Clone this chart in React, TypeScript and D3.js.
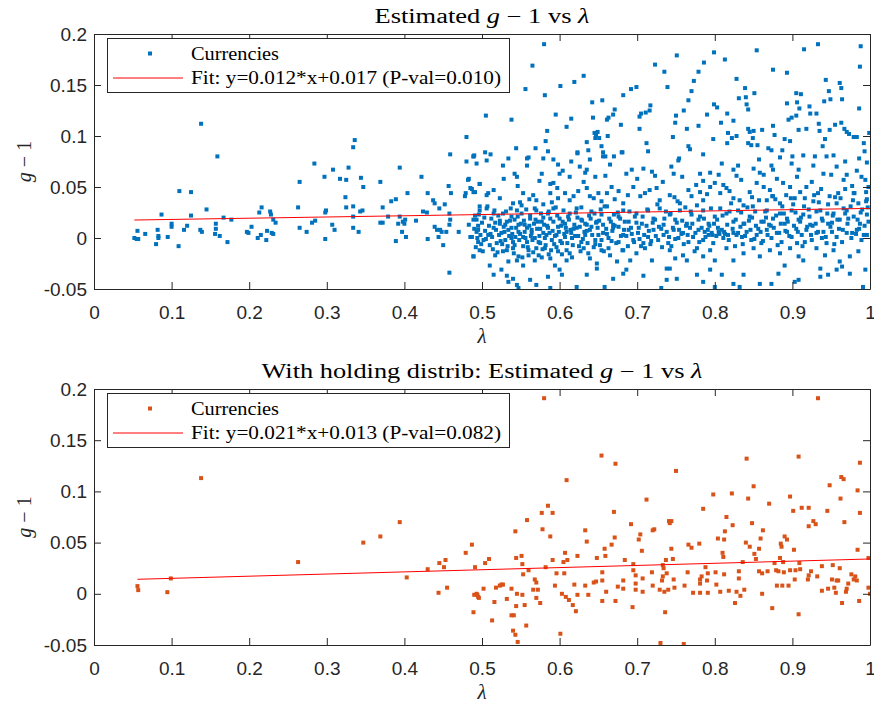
import React, { useEffect, useRef } from 'react';
import * as d3 from 'd3';

// tick values and labels (MATLAB style, hyphen minus)
const xTicks = [0, 0.1, 0.2, 0.3, 0.4, 0.5, 0.6, 0.7, 0.8, 0.9, 1];
const xTickLabels = ['0', '0.1', '0.2', '0.3', '0.4', '0.5', '0.6', '0.7', '0.8', '0.9', '1'];
const yTicks = [-0.05, 0, 0.05, 0.1, 0.15, 0.2];
const yTickLabels = ['-0.05', '0', '0.05', '0.1', '0.15', '0.2'];

// linear fits printed in the legends
const fitAll = [0.012, 0.017];
const fitHolding = [0.021, 0.013];
const fitLabels = ['Fit: y=0.012*x+0.017 (P-val=0.010)', 'Fit: y=0.021*x+0.013 (P-val=0.082)'];

// estimated g-1 vs lambda, all currencies
const currenciesAll: [number, number][] = [
  [0.052,0.000],[0.055,-0.001],[0.056,0.007],[0.057,-0.001],[0.066,0.004],[0.080,-0.006],[0.082,0.008],[0.083,0.002],[0.083,0.000],[0.087,0.023],
  [0.095,0.001],[0.100,0.014],[0.100,0.011],[0.109,-0.008],[0.110,0.046],[0.116,0.008],[0.120,0.012],[0.125,0.045],[0.125,0.022],[0.137,0.008],
  [0.139,0.006],[0.138,0.112],[0.145,0.028],[0.157,0.014],[0.157,0.009],[0.156,0.004],[0.159,0.080],[0.162,0.002],[0.167,0.020],[0.172,-0.004],
  [0.177,0.018],[0.197,0.006],[0.199,0.005],[0.203,0.011],[0.211,0.000],[0.213,0.025],[0.216,0.030],[0.215,0.003],[0.222,-0.002],[0.223,0.007],
  [0.227,0.026],[0.228,0.023],[0.229,0.005],[0.231,0.004],[0.231,0.018],[0.234,0.015],[0.263,0.030],[0.265,0.055],[0.265,0.010],[0.274,0.006],
  [0.281,0.015],[0.284,0.073],[0.285,0.017],[0.297,0.060],[0.298,0.025],[0.299,0.027],[0.298,-0.001],[0.308,0.067],[0.307,0.013],[0.310,0.008],
  [0.317,0.058],[0.325,0.057],[0.324,0.040],[0.325,0.030],[0.328,0.069],[0.334,0.089],[0.336,0.096],[0.334,0.031],[0.334,0.021],[0.334,0.010],
  [0.341,0.006],[0.343,0.026],[0.344,0.059],[0.346,0.027],[0.347,0.050],[0.369,0.055],[0.372,0.030],[0.369,0.015],[0.372,0.015],[0.379,0.021],
  [0.383,0.036],[0.389,0.038],[0.394,0.069],[0.389,-0.003],[0.392,0.014],[0.394,0.021],[0.397,0.006],[0.398,0.016],[0.400,0.014],[0.401,0.018],
  [0.402,0.001],[0.404,0.044],[0.415,0.017],[0.422,0.060],[0.424,0.026],[0.429,0.025],[0.430,0.044],[0.430,-0.001],[0.437,0.037],[0.439,0.034],
  [0.439,0.011],[0.442,0.008],[0.444,0.001],[0.445,0.029],[0.446,0.008],[0.448,0.006],[0.450,-0.007],[0.452,0.033],[0.454,0.006],[0.457,0.051],
  [0.458,0.024],[0.459,0.082],[0.458,-0.034],[0.460,0.044],[0.458,0.013],[0.459,0.018],[0.470,0.006],[0.478,0.041],[0.479,0.044],[0.480,0.099],
  [0.480,0.075],[0.482,0.057],[0.483,0.058],[0.483,0.013],[0.485,0.001],[0.487,0.048],[0.489,0.080],[0.489,-0.018],[0.491,0.022],[0.491,0.045],
  [0.493,0.073],[0.494,0.000],[0.495,-0.004],[0.497,0.053],[0.497,0.031],[0.495,0.008],[0.497,-0.012],[0.493,0.018],
  // upper cloud
  [0.580,0.190],[0.565,0.169],[0.556,0.146],[0.581,0.140],[0.601,0.149],[0.619,0.153],[0.631,0.159],[0.505,0.120],[0.538,0.116],[0.595,0.121],
  [0.615,0.117],[0.609,0.109],[0.584,0.105],[0.582,0.095],[0.544,0.088],[0.569,0.088],[0.579,0.078],[0.585,0.085],[0.534,0.078],[0.560,0.079],
  [0.504,0.084],[0.506,0.076],[0.489,0.080],[0.592,0.077],[0.615,0.075],[0.623,0.084],[0.635,0.094],[0.637,0.086],[0.642,0.133],[0.655,0.135],
  [0.643,0.118],[0.645,0.103],[0.647,0.101],[0.649,0.104],[0.651,0.098],[0.646,0.098],[0.654,0.090],[0.656,0.084],[0.659,0.080],[0.661,0.116],
  [0.662,0.100],[0.663,0.118],[0.670,0.080],[0.671,0.126],[0.669,0.121],[0.679,0.111],[0.681,0.084],[0.682,0.140],[0.692,0.146],[0.699,0.148],
  [0.703,0.119],[0.703,0.107],[0.705,0.122],[0.711,0.123],[0.716,0.125],[0.717,0.130],[0.712,0.093],[0.714,0.085],[0.723,0.170],[0.735,0.163],
  [0.739,0.148],[0.751,0.179],[0.746,0.099],[0.749,0.113],[0.750,0.120],[0.760,0.125],[0.764,0.107],[0.766,0.090],[0.768,0.087],[0.770,0.144],
  [0.773,0.154],[0.779,0.163],[0.786,0.172],[0.799,0.182],[0.813,0.175],[0.766,0.135],[0.779,0.110],[0.790,0.121],[0.799,0.131],[0.803,0.128],
  [0.798,0.097],[0.808,0.113],[0.816,0.122],[0.824,0.115],[0.817,0.103],[0.816,0.093],[0.822,0.098],[0.828,0.100],[0.828,0.156],[0.831,0.137],
  [0.839,0.147],[0.840,0.138],[0.841,0.131],[0.843,0.126],[0.851,0.142],[0.854,0.184],[0.843,0.107],[0.845,0.104],[0.850,0.105],[0.849,0.098],
  [0.843,0.093],[0.847,0.091],[0.855,0.091],[0.861,0.106],[0.875,0.165],[0.875,0.110],[0.877,0.101],[0.869,0.088],[0.873,0.086],[0.887,0.086],
  [0.893,0.162],[0.893,0.132],[0.890,0.097],[0.897,0.095],[0.895,0.116],[0.899,0.118],[0.905,0.120],[0.905,0.142],[0.911,0.141],[0.906,0.133],
  [0.909,0.127],[0.908,0.106],[0.918,0.107],[0.922,0.129],[0.923,0.122],[0.915,0.185],[0.933,0.190],[0.931,0.122],[0.934,0.112],[0.935,0.105],
  [0.943,0.155],[0.941,0.134],[0.947,0.144],[0.949,0.136],[0.948,0.106],[0.942,0.097],[0.939,0.090],[0.955,0.111],[0.961,0.152],[0.963,0.147],
  [0.963,0.113],[0.964,0.136],[0.967,0.107],[0.970,0.104],[0.973,0.102],[0.979,0.099],[0.983,0.099],[0.987,0.168],[0.988,0.188],[0.986,0.127],
  [0.992,0.093],[0.999,0.103],[0.993,0.085],
  [0.490,0.081],[0.511,0.082],[0.558,0.078],[0.623,0.083],[0.639,0.077],[0.656,0.080],[0.680,0.084],[0.754,0.078],[0.785,0.082],[0.857,0.077],
  [0.884,0.079],[0.900,0.080],[0.914,0.081],[0.929,0.080],[0.944,0.080],[0.953,0.081],[0.986,0.078],
  // 0.05 - 0.077 band
  [0.527,0.071],[0.542,0.063],[0.545,0.060],[0.558,0.071],[0.577,0.063],[0.588,0.053],[0.592,0.054],[0.598,0.072],[0.600,0.063],[0.613,0.060],
  [0.626,0.070],[0.633,0.064],[0.635,0.067],[0.646,0.060],[0.665,0.072],[0.686,0.063],[0.693,0.067],[0.708,0.068],[0.719,0.065],[0.723,0.061],
  [0.744,0.070],[0.747,0.063],[0.753,0.076],[0.781,0.063],[0.785,0.056],[0.794,0.064],[0.809,0.073],[0.811,0.052],[0.824,0.067],[0.828,0.061],
  [0.830,0.071],[0.850,0.068],[0.863,0.062],[0.873,0.071],[0.875,0.067],[0.899,0.073],[0.908,0.067],[0.927,0.071],[0.940,0.063],[0.957,0.070],
  [0.968,0.075],[0.970,0.062],[0.983,0.066],[0.996,0.074],[0.994,0.057],[0.497,0.053],[0.508,0.044],[0.485,0.049],[0.489,0.045],
  // 0.03 - 0.05 band
  [0.506,0.042],[0.523,0.039],[0.540,0.034],[0.549,0.035],[0.553,0.044],[0.566,0.042],[0.570,0.037],[0.579,0.033],[0.588,0.044],[0.590,0.035],
  [0.598,0.039],[0.607,0.044],[0.613,0.037],[0.624,0.046],[0.635,0.049],[0.639,0.041],[0.650,0.044],[0.654,0.036],[0.661,0.044],[0.671,0.038],
  [0.676,0.046],[0.682,0.034],[0.695,0.050],[0.704,0.041],[0.710,0.044],[0.725,0.049],[0.729,0.037],[0.742,0.042],[0.755,0.034],[0.766,0.047],
  [0.770,0.041],[0.781,0.045],[0.785,0.037],[0.794,0.050],[0.800,0.054],[0.807,0.044],[0.815,0.049],[0.824,0.039],[0.832,0.037],[0.837,0.032],
  [0.845,0.045],[0.854,0.054],[0.863,0.050],[0.867,0.037],[0.875,0.041],[0.884,0.034],[0.888,0.054],[0.897,0.050],[0.903,0.039],[0.910,0.045],
  [0.918,0.050],[0.927,0.036],[0.933,0.044],[0.948,0.041],[0.957,0.034],[0.968,0.048],[0.979,0.044],[0.985,0.034],[0.996,0.038],[0.998,0.050],
  [0.515,0.047],[0.528,0.058],[0.546,0.051],[0.561,0.038],[0.574,0.056],[0.597,0.049],[0.604,0.066],[0.618,0.041],[0.631,0.055],[0.644,0.039],
  [0.659,0.061],[0.667,0.050],[0.688,0.042],[0.700,0.058],[0.716,0.047],[0.733,0.055],[0.748,0.040],[0.758,0.060],[0.776,0.052],[0.790,0.043],
  [0.805,0.062],[0.819,0.046],[0.834,0.057],[0.848,0.040],[0.858,0.064],[0.871,0.047],[0.880,0.058],[0.892,0.042],[0.906,0.060],[0.916,0.039],
  [0.925,0.055],[0.937,0.048],[0.950,0.062],[0.959,0.044],[0.966,0.057],[0.977,0.051],[0.989,0.060],[0.995,0.045],
  // 0.01 - 0.03 band
  [0.489,0.018],[0.497,0.027],[0.506,0.029],[0.515,0.024],[0.523,0.014],[0.532,0.016],[0.538,0.021],[0.545,0.027],[0.551,0.024],[0.555,0.013],
  [0.562,0.019],[0.570,0.027],[0.577,0.016],[0.585,0.024],[0.592,0.029],[0.600,0.019],[0.607,0.014],[0.613,0.024],[0.622,0.029],[0.628,0.018],
  [0.635,0.013],[0.641,0.026],[0.648,0.016],[0.654,0.023],[0.661,0.031],[0.669,0.013],[0.676,0.021],[0.682,0.027],[0.689,0.016],[0.699,0.024],
  [0.706,0.014],[0.714,0.027],[0.721,0.019],[0.729,0.029],[0.734,0.013],[0.742,0.023],[0.749,0.018],[0.755,0.027],[0.764,0.014],[0.770,0.023],
  [0.779,0.018],[0.785,0.027],[0.792,0.014],[0.800,0.021],[0.807,0.029],[0.815,0.024],[0.824,0.016],[0.830,0.027],[0.837,0.014],[0.845,0.021],
  [0.852,0.026],[0.860,0.016],[0.867,0.027],[0.875,0.019],[0.884,0.024],[0.890,0.014],[0.899,0.027],[0.908,0.018],[0.914,0.023],[0.923,0.013],
  [0.931,0.026],[0.938,0.019],[0.946,0.014],[0.953,0.024],[0.961,0.018],[0.970,0.027],[0.979,0.021],[0.987,0.014],[0.996,0.023],
  // around zero
  [0.487,0.001],[0.493,0.006],[0.502,-0.002],[0.508,0.003],[0.515,0.010],[0.519,-0.005],[0.525,0.005],[0.530,-0.002],[0.534,0.008],[0.538,0.000],
  [0.542,-0.007],[0.547,0.006],[0.553,0.001],[0.558,-0.004],[0.564,0.008],[0.568,0.000],[0.575,-0.005],[0.579,0.005],[0.585,0.010],[0.590,-0.002],
  [0.596,0.003],[0.603,-0.005],[0.609,0.006],[0.616,0.000],[0.622,0.010],[0.628,-0.004],[0.633,0.003],[0.639,0.008],[0.646,-0.002],[0.652,-0.007],
  [0.656,0.005],[0.663,0.000],[0.669,0.010],[0.676,-0.004],[0.682,0.003],[0.689,0.008],[0.695,-0.002],[0.701,0.005],[0.708,-0.005],[0.714,0.001],
  [0.721,0.008],[0.727,-0.002],[0.734,0.003],[0.740,-0.005],[0.747,0.008],[0.753,0.000],[0.759,0.005],[0.766,-0.004],[0.772,0.001],[0.779,0.008],
  [0.785,-0.002],[0.792,0.003],[0.798,-0.005],[0.805,0.006],[0.811,0.000],[0.817,0.003],[0.824,0.005],[0.828,0.003],[0.835,0.001],[0.841,0.006],
  [0.847,-0.002],[0.854,0.003],[0.860,-0.005],[0.867,0.008],[0.873,0.000],[0.880,0.005],[0.886,-0.004],[0.893,0.006],[0.899,0.001],[0.906,-0.005],
  [0.912,0.003],[0.918,0.008],[0.925,-0.002],[0.931,0.005],[0.938,0.000],[0.944,-0.005],[0.951,0.006],[0.957,0.001],[0.964,-0.004],[0.970,0.005],
  [0.976,0.000],[0.983,0.008],[0.989,-0.002],[0.996,0.003],
  [0.495,0.012],[0.499,-0.006],[0.503,0.020],[0.511,0.004],[0.514,-0.011],[0.517,0.015],[0.521,0.022],[0.524,-0.003],[0.528,0.011],[0.531,0.026],
  [0.533,-0.008],[0.536,0.017],[0.539,0.004],[0.541,-0.015],[0.544,0.010],[0.546,0.021],[0.548,-0.002],[0.550,0.014],[0.552,-0.019],[0.555,0.006],
  [0.557,0.028],[0.559,-0.009],[0.561,0.012],[0.563,0.002],[0.566,-0.014],[0.569,0.018],[0.571,0.009],[0.573,-0.004],[0.576,0.024],[0.578,-0.011],
  [0.580,0.013],[0.583,0.003],[0.586,-0.016],[0.588,0.019],[0.591,0.007],[0.593,-0.006],[0.595,0.030],[0.598,0.011],[0.601,-0.003],[0.604,0.016],
  [0.606,0.004],[0.609,-0.012],[0.611,0.021],[0.614,0.008],[0.617,-0.007],[0.619,0.013],[0.621,0.025],[0.624,0.002],[0.627,-0.013],[0.629,0.017],
  [0.632,0.006],[0.636,-0.005],[0.638,0.022],[0.641,0.011],[0.644,-0.009],[0.647,0.015],[0.650,0.003],[0.653,0.028],[0.657,-0.013],[0.660,0.009],
  [0.664,0.019],[0.667,-0.003],[0.671,0.012],[0.675,0.025],[0.679,0.002],[0.684,0.016],[0.688,-0.008],[0.692,0.010],[0.697,0.021],[0.703,-0.001],
  [0.712,0.012],[0.717,-0.006],[0.723,0.018],[0.731,0.009],[0.737,0.026],[0.744,-0.008],[0.751,0.015],[0.757,0.004],[0.762,0.030],[0.768,0.010],
  [0.774,-0.013],[0.781,0.021],[0.787,0.006],[0.793,0.012],[0.797,0.003],[0.803,0.018],[0.809,0.008],[0.813,0.004],[0.819,0.026],[0.826,-0.008],
  [0.833,0.011],[0.839,0.002],[0.844,0.017],[0.849,0.031],[0.856,0.009],[0.862,-0.003],[0.866,0.020],[0.872,0.012],[0.878,0.038],[0.883,0.005],
  [0.889,0.024],[0.894,0.016],[0.901,0.033],[0.905,0.009],[0.911,0.020],[0.916,-0.004],[0.921,0.028],[0.926,0.012],[0.934,0.035],[0.940,0.006],
  [0.945,0.024],[0.951,0.015],[0.955,0.040],[0.960,0.009],[0.966,0.029],[0.972,0.019],[0.978,0.037],[0.982,0.004],[0.988,0.025],[0.993,0.012],
  [0.997,0.030],
  [0.490,0.009],[0.492,-0.009],[0.496,0.023],[0.498,0.003],[0.500,0.015],[0.501,-0.013],[0.504,0.007],[0.505,-0.001],[0.507,0.031],[0.509,0.012],
  [0.510,-0.007],[0.512,0.019],[0.513,0.001],[0.516,0.027],[0.518,0.008],[0.520,-0.014],[0.522,0.003],[0.523,0.017],[0.526,-0.006],[0.527,0.024],
  [0.529,0.006],[0.530,0.013],[0.532,-0.012],[0.535,0.002],[0.537,0.029],[0.538,0.010],[0.540,-0.004],[0.542,0.018],[0.543,0.001],[0.545,-0.022],
  [0.547,0.013],[0.549,0.004],[0.551,0.032],[0.553,-0.008],[0.554,0.017],[0.556,0.000],[0.558,0.010],[0.560,-0.017],[0.562,0.022],[0.564,0.005],
  [0.565,-0.002],[0.567,0.014],[0.568,0.029],[0.570,-0.010],[0.572,0.016],[0.574,0.002],[0.575,0.009],[0.577,-0.019],[0.579,0.020],[0.581,0.000],
  [0.582,-0.007],[0.584,0.012],[0.586,0.026],[0.587,0.005],[0.589,-0.012],[0.592,0.016],[0.594,0.002],[0.596,-0.009],[0.597,0.022],[0.599,0.006],
  [0.602,0.012],[0.603,-0.016],[0.605,0.027],[0.607,0.001],[0.608,0.010],[0.610,-0.005],[0.612,0.018],[0.615,0.005],[0.616,-0.019],[0.618,0.009],
  [0.620,0.002],[0.623,0.020],[0.625,-0.008],[0.626,0.011],[0.628,0.030],[0.630,-0.001],[0.633,0.014],[0.635,0.007],[0.637,-0.015],[0.640,0.019],
  [0.642,0.003],[0.645,0.024],[0.646,-0.006],[0.649,0.010],[0.651,0.017],[0.654,-0.002],[0.656,0.013],[0.658,0.031],[0.661,0.004],[0.663,-0.010],
  [0.666,0.016],[0.668,0.007],[0.670,0.023],[0.673,-0.005],[0.676,0.011],[0.678,0.019],[0.681,-0.012],[0.683,0.008],[0.686,0.002],[0.690,0.026],
  [0.693,0.004],[0.696,-0.004],[0.699,0.015],
  [0.702,0.010],[0.705,-0.008],[0.707,0.021],[0.709,0.003],[0.713,0.028],[0.715,0.007],[0.718,-0.003],[0.720,0.015],[0.724,0.002],[0.726,0.033],
  [0.728,0.011],[0.732,-0.009],[0.735,0.019],[0.738,0.006],[0.741,0.001],[0.743,0.024],[0.746,0.010],[0.749,-0.001],[0.752,0.036],[0.754,0.008],
  [0.758,0.017],[0.760,-0.006],[0.763,0.012],[0.765,0.003],[0.769,0.026],[0.771,0.014],[0.775,0.005],[0.777,0.032],[0.780,-0.004],[0.783,0.010],
  [0.786,0.019],[0.788,0.001],[0.791,0.008],[0.795,0.029],[0.796,0.005],[0.799,0.014],[0.802,0.002],[0.804,0.010],[0.806,0.004],[0.810,0.022],
  [0.812,0.006],[0.816,0.013],[0.818,-0.002],[0.821,0.034],[0.823,0.009],[0.827,0.018],[0.830,0.005],[0.834,0.025],[0.836,-0.006],[0.838,0.014],
  [0.842,0.030],[0.846,0.008],[0.848,0.020],[0.851,-0.001],[0.853,0.012],[0.857,0.037],[0.859,0.006],[0.863,0.016],[0.865,0.026],[0.868,0.003],
  [0.870,0.013],[0.874,0.041],[0.876,0.010],[0.879,0.022],[0.881,-0.007],[0.885,0.014],[0.887,0.031],[0.891,0.007],[0.893,0.019],[0.896,0.002],
  [0.898,0.039],[0.902,0.012],[0.904,0.025],[0.907,0.006],[0.910,0.016],[0.913,-0.008],[0.915,0.031],[0.919,0.011],[0.922,0.021],[0.924,0.003],
  [0.928,0.042],[0.930,0.014],[0.933,0.006],[0.936,0.027],[0.939,0.017],[0.943,0.001],[0.946,0.033],[0.949,0.011],[0.952,0.022],[0.954,-0.006],
  [0.958,0.018],[0.962,0.039],[0.965,0.008],[0.968,0.024],[0.971,0.014],[0.975,0.031],[0.977,0.005],[0.980,0.044],[0.984,0.018],[0.986,0.009],
  [0.990,0.028],[0.992,0.003],[0.995,0.036],[0.998,0.016],
  // negative tail
  [0.489,-0.018],[0.510,-0.027],[0.517,-0.017],[0.527,-0.013],[0.534,-0.023],[0.540,-0.010],[0.547,-0.018],[0.553,-0.027],[0.560,-0.012],[0.568,-0.022],
  [0.573,-0.017],[0.581,-0.010],[0.588,-0.020],[0.594,-0.027],[0.598,-0.013],[0.609,-0.022],[0.613,-0.015],[0.631,-0.010],[0.639,-0.020],[0.648,-0.025],
  [0.654,-0.012],[0.665,-0.017],[0.674,-0.023],[0.682,-0.012],[0.691,-0.022],[0.699,-0.015],[0.710,-0.010],[0.719,-0.022],[0.738,-0.030],[0.742,-0.012],
  [0.749,-0.020],[0.759,-0.017],[0.764,-0.022],[0.777,-0.010],[0.785,-0.018],[0.794,-0.012],[0.800,-0.022],[0.815,-0.010],[0.824,-0.022],[0.837,-0.015],
  [0.850,-0.010],[0.858,-0.018],[0.871,-0.012],[0.884,-0.015],[0.890,-0.027],[0.897,-0.010],[0.908,-0.018],[0.914,-0.022],[0.931,-0.010],[0.936,-0.030],
  [0.942,-0.017],[0.953,-0.012],[0.961,-0.023],[0.974,-0.018],[0.985,-0.013],[0.994,-0.031],
  [0.515,-0.036],[0.525,-0.031],[0.532,-0.037],[0.534,-0.043],[0.540,-0.040],[0.545,-0.046],[0.547,-0.049],[0.562,-0.041],[0.570,-0.046],[0.585,-0.038],
  [0.588,-0.049],[0.600,-0.031],[0.603,-0.036],[0.622,-0.048],[0.635,-0.036],[0.648,-0.030],[0.658,-0.048],[0.669,-0.040],[0.682,-0.035],[0.686,-0.031],
  [0.708,-0.037],[0.731,-0.049],[0.738,-0.041],[0.742,-0.030],[0.751,-0.040],[0.777,-0.036],[0.785,-0.043],[0.794,-0.031],[0.800,-0.048],[0.809,-0.036],
  [0.824,-0.045],[0.832,-0.048],[0.837,-0.036],[0.858,-0.045],[0.873,-0.045],[0.882,-0.035],[0.903,-0.043],[0.908,-0.041],[0.936,-0.038],[0.946,-0.036],
  [0.957,-0.031],[0.964,-0.028],[0.974,-0.035],[0.991,-0.048],
];

// with holding distribution
const currenciesHolding: [number, number][] = [
  [0.056,0.0075],[0.057,0.0036],[0.0945,0.0016],[0.099,0.015],[0.138,0.113],[0.263,0.031],[0.347,0.050],[0.369,0.056],[0.394,0.070],[0.403,0.016],
  [0.430,0.024],[0.444,0.001],[0.445,0.030],[0.451,0.026],[0.453,0.033],[0.455,0.006],[0.479,0.040],[0.487,0.048],[0.489,-0.018],[0.491,0.026],
  [0.490,-0.001],[0.493,0.000],[0.495,-0.003],[0.494,-0.001],[0.496,-0.004],[0.502,0.005],[0.504,0.030],[0.509,0.034],[0.513,-0.026],[0.516,-0.008],
  [0.518,0.006],[0.523,0.008],[0.525,0.009],[0.527,0.009],[0.532,-0.005],[0.538,0.005],[0.538,-0.021],[0.541,-0.021],[0.540,-0.036],[0.543,-0.040],
  [0.546,-0.047],[0.543,0.061],[0.544,0.035],[0.544,-0.012],[0.545,0.000],[0.551,0.037],[0.552,-0.001],[0.552,0.029],[0.553,0.019],[0.555,-0.011],
  [0.557,-0.031],[0.558,0.072],[0.560,0.023],[0.566,0.004],[0.568,0.014],[0.570,0.011],[0.570,-0.004],[0.572,0.004],[0.575,-0.009],[0.577,0.079],
  [0.578,0.063],[0.580,0.191],[0.582,0.026],[0.585,0.086],[0.588,0.056],[0.591,0.079],[0.591,0.033],[0.594,0.008],[0.596,0.020],[0.601,-0.039],
  [0.603,0.000],[0.605,0.031],[0.606,0.020],[0.607,0.040],[0.608,-0.003],[0.609,0.111],[0.610,0.033],[0.612,-0.006],[0.617,-0.011],[0.619,0.009],
  [0.621,-0.017],[0.623,0.037],[0.623,-0.001],[0.633,0.062],[0.635,0.051],[0.633,0.008],[0.637,-0.001],[0.644,0.011],[0.647,0.012],[0.648,0.035],
  [0.654,0.135],[0.655,0.021],[0.655,0.013],[0.655,-0.007],[0.658,0.044],[0.659,0.037],[0.660,0.002],[0.667,0.048],[0.670,0.080],[0.671,0.055],
  [0.672,0.127],[0.672,-0.007],[0.675,0.007],[0.682,0.013],[0.682,0.005],[0.684,0.033],[0.692,0.068],[0.694,-0.013],[0.695,0.029],[0.695,0.023],
  [0.698,0.018],[0.698,0.010],[0.698,0.004],[0.702,0.053],[0.704,0.058],[0.706,0.042],[0.707,0.015],[0.707,0.002],[0.712,0.092],[0.719,0.021],
  [0.720,0.008],[0.720,0.062],[0.722,0.063],[0.729,0.004],[0.730,-0.048],[0.732,0.013],[0.733,0.017],[0.733,0.028],[0.734,0.025],[0.735,0.002],
  [0.736,-0.018],[0.737,0.033],[0.738,0.020],[0.740,0.004],[0.741,0.071],[0.742,0.069],[0.744,0.071],[0.746,0.034],[0.747,0.014],[0.748,0.006],
  [0.744,0.044],[0.750,0.120],[0.760,-0.049],[0.761,0.008],[0.765,0.021],[0.766,0.048],[0.770,0.045],[0.772,0.001],[0.780,0.049],[0.781,0.014],
  [0.781,0.010],[0.781,0.001],[0.783,0.017],[0.785,0.083],[0.788,0.026],[0.790,0.013],[0.791,0.001],[0.791,0.020],[0.798,0.097],[0.801,0.021],
  [0.802,0.009],[0.804,0.054],[0.807,0.002],[0.810,0.040],[0.811,0.036],[0.812,0.019],[0.812,0.053],[0.813,0.061],[0.815,0.075],[0.818,0.003],
  [0.822,0.098],[0.823,0.067],[0.826,-0.009],[0.828,0.002],[0.831,0.022],[0.831,0.015],[0.833,-0.002],[0.836,0.031],[0.838,0.004],[0.840,0.050],
  [0.841,0.132],[0.843,0.093],[0.845,0.046],[0.848,0.069],[0.850,0.105],[0.851,0.039],[0.853,0.034],[0.857,0.044],[0.857,0.022],[0.859,0.054],
  [0.861,0.020],[0.861,0.000],[0.862,0.062],[0.868,0.022],[0.870,0.088],[0.874,-0.014],[0.877,0.030],[0.879,0.023],[0.880,0.008],[0.882,0.022],
  [0.884,0.035],[0.885,0.049],[0.886,0.046],[0.887,0.008],[0.888,0.031],[0.889,0.021],[0.890,0.056],[0.893,0.053],[0.895,0.008],[0.897,0.095],
  [0.897,0.023],[0.901,0.081],[0.902,0.043],[0.903,0.014],[0.904,0.023],[0.908,-0.020],[0.908,0.134],[0.909,0.030],[0.910,0.024],[0.912,0.084],
  [0.920,0.014],[0.921,0.018],[0.921,0.084],[0.921,0.066],[0.924,0.022],[0.927,0.071],[0.930,0.068],[0.933,0.191],[0.932,0.017],[0.938,0.003],
  [0.938,0.027],[0.945,0.081],[0.946,0.005],[0.948,0.106],[0.951,0.014],[0.952,0.028],[0.954,0.006],[0.956,0.001],[0.957,0.013],[0.959,0.013],
  [0.961,0.025],[0.962,0.093],[0.963,0.114],[0.966,0.112],[0.964,-0.009],[0.967,0.070],[0.969,0.002],[0.970,0.005],[0.972,0.010],[0.976,0.019],
  [0.979,0.014],[0.981,0.017],[0.983,0.013],[0.984,0.043],[0.984,0.101],[0.986,-0.007],[0.987,0.128],[0.987,0.079],[0.998,0.035],[0.998,0.006],
  [1.000,0.000],
];

const W = 874;
const H = 703;
const X_RANGE = [94, 870];
const AXIS = '#262626';
const SANS = '"Liberation Sans", Arial, Helvetica, sans-serif';
const SERIF = '"Liberation Serif", "Times New Roman", serif';

function drawPanel(root, opts) {
  const { top, bottom, points, color, fit, fitLabel, titlePrefix, titleLen, id } = opts;
  const x = d3.scaleLinear().domain([0, 1]).range(X_RANGE);
  const y = d3.scaleLinear().domain([-0.05, 0.2]).range([bottom, top]);
  const g = root.append('g');

  g.append('clipPath').attr('id', id).append('rect')
    .attr('x', X_RANGE[0]).attr('y', top)
    .attr('width', X_RANGE[1] - X_RANGE[0]).attr('height', bottom - top);

  const plot = g.append('g').attr('clip-path', `url(#${id})`);
  plot.selectAll('rect.pt')
    .data(points)
    .enter()
    .append('rect')
    .attr('class', 'pt')
    .attr('x', (d) => x(d[0]) - 2)
    .attr('y', (d) => y(d[1]) - 2)
    .attr('width', 4)
    .attr('height', 4)
    .attr('fill', color);

  const xs = [d3.min(points, (d) => d[0]), 1];
  const line = d3.line().x((d) => x(d)).y((d) => y(fit[0] * d + fit[1]));
  plot.append('path')
    .attr('d', line(xs))
    .attr('fill', 'none')
    .attr('stroke', '#ff0000')
    .attr('stroke-width', 1);

  // box axes with inward ticks
  const styleAxis = (sel) => {
    sel.select('.domain').attr('stroke', AXIS).attr('stroke-width', 1);
    sel.selectAll('line').attr('stroke', AXIS).attr('stroke-width', 1);
    sel.selectAll('text').attr('fill', AXIS).attr('font-family', SANS).attr('font-size', 19);
  };
  const xb = g.append('g').attr('transform', `translate(0,${bottom})`)
    .call(d3.axisBottom(x).tickValues(xTicks).tickSizeInner(-7).tickSizeOuter(0).tickPadding(17)
      .tickFormat((d, i) => xTickLabels[i]));
  styleAxis(xb);
  const xt = g.append('g').attr('transform', `translate(0,${top})`)
    .call(d3.axisTop(x).tickValues(xTicks).tickSizeInner(-7).tickSizeOuter(0).tickFormat(() => ''));
  styleAxis(xt);
  const yl = g.append('g').attr('transform', `translate(${X_RANGE[0]},0)`)
    .call(d3.axisLeft(y).tickValues(yTicks).tickSizeInner(-7).tickSizeOuter(0).tickPadding(7)
      .tickFormat((d, i) => yTickLabels[i]));
  styleAxis(yl);
  const yr = g.append('g').attr('transform', `translate(${X_RANGE[1]},0)`)
    .call(d3.axisRight(y).tickValues(yTicks).tickSizeInner(-7).tickSizeOuter(0).tickFormat(() => ''));
  styleAxis(yr);

  // title
  const mid = (X_RANGE[0] + X_RANGE[1]) / 2;
  const title = g.append('text')
    .attr('x', mid).attr('y', top - 11)
    .attr('text-anchor', 'middle')
    .attr('font-family', SERIF).attr('font-size', 20).attr('fill', '#000')
    .attr('textLength', titleLen).attr('lengthAdjust', 'spacingAndGlyphs');
  title.append('tspan').text(`${titlePrefix}Estimated `);
  title.append('tspan').attr('font-style', 'italic').text('g');
  title.append('tspan').text(' \u2212 1 vs ');
  title.append('tspan').attr('font-style', 'italic').text('\u03bb');

  // axis labels
  g.append('text')
    .attr('x', mid).attr('y', bottom + 54)
    .attr('text-anchor', 'middle')
    .attr('font-family', SERIF).attr('font-style', 'italic').attr('font-size', 21).attr('fill', AXIS)
    .text('\u03bb');
  const yLab = g.append('text')
    .attr('transform', `translate(31,${(top + bottom) / 2}) rotate(-90)`)
    .attr('text-anchor', 'middle')
    .attr('font-family', SERIF).attr('font-size', 20).attr('fill', AXIS);
  yLab.append('tspan').attr('font-style', 'italic').text('g');
  yLab.append('tspan').text(' \u2212 1');

  // legend
  const lg = g.append('g');
  lg.append('rect')
    .attr('x', 107.5).attr('y', top + 4.5).attr('width', 402).attr('height', 54)
    .attr('fill', '#fff').attr('stroke', AXIS).attr('stroke-width', 1);
  lg.append('rect')
    .attr('x', 148).attr('y', top + 17.5).attr('width', 4).attr('height', 4).attr('fill', color);
  lg.append('line')
    .attr('x1', 113).attr('x2', 183).attr('y1', top + 44).attr('y2', top + 44)
    .attr('stroke', '#ff0000').attr('stroke-width', 1);
  lg.append('text')
    .attr('x', 191).attr('y', top + 25.5)
    .attr('font-family', SERIF).attr('font-size', 19).attr('fill', '#000')
    .attr('textLength', 88).attr('lengthAdjust', 'spacingAndGlyphs')
    .text('Currencies');
  lg.append('text')
    .attr('x', 191).attr('y', top + 50)
    .attr('font-family', SERIF).attr('font-size', 19).attr('fill', '#000')
    .attr('textLength', 310).attr('lengthAdjust', 'spacingAndGlyphs')
    .text(fitLabel);
}

export default function App() {
  const svgRef = useRef(null);

  useEffect(() => {
    document.body.style.margin = '0';
    const svg = d3.select(svgRef.current);
    svg.selectAll('*').remove();
    svg.append('rect').attr('width', W).attr('height', H).attr('fill', '#fff');
    drawPanel(svg, {
      id: 'clipTop', top: 34, bottom: 289, points: currenciesAll, color: '#0072BD',
      fit: fitAll, fitLabel: fitLabels[0], titlePrefix: '', titleLen: 215,
    });
    drawPanel(svg, {
      id: 'clipBottom', top: 389, bottom: 645, points: currenciesHolding, color: '#D95319',
      fit: fitHolding, fitLabel: fitLabels[1], titlePrefix: 'With holding distrib: ', titleLen: 441,
    });
  }, []);

  return <svg ref={svgRef} width={W} height={H} style={{ display: 'block' }} />;
}
